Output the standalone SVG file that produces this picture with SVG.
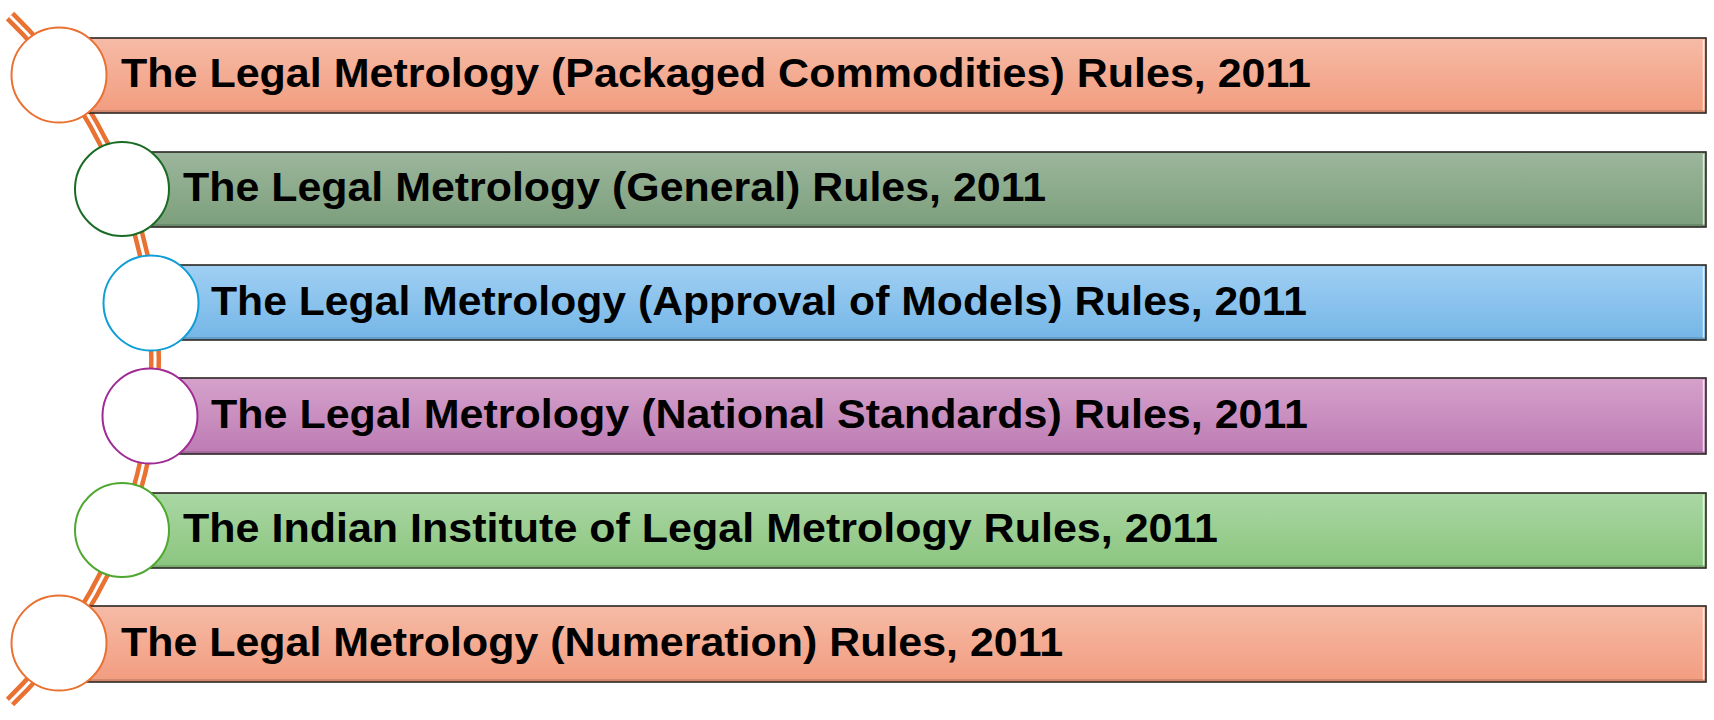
<svg xmlns="http://www.w3.org/2000/svg" width="1714" height="720" viewBox="0 0 1714 720">
<style>
.bar{stroke:#2a2622;stroke-width:1.6}
.hl{stroke:#ffffff;stroke-opacity:0.7;stroke-width:1.5}
.sh{stroke:#000;stroke-opacity:0.18;stroke-width:1.5}
.dot{fill:#ffffff;stroke-width:2}
.lbl{font-family:"Liberation Sans",Arial,sans-serif;font-weight:bold;font-size:41px;fill:#000}
</style>
<defs>
<linearGradient id="gO" x1="0" y1="0" x2="0" y2="1"><stop offset="0" stop-color="#F6BBA6"/><stop offset="1" stop-color="#F29C7F"/></linearGradient>
<linearGradient id="gG" x1="0" y1="0" x2="0" y2="1"><stop offset="0" stop-color="#9DB69D"/><stop offset="1" stop-color="#7B9F7B"/></linearGradient>
<linearGradient id="gB" x1="0" y1="0" x2="0" y2="1"><stop offset="0" stop-color="#A0CFF3"/><stop offset="1" stop-color="#74B6E7"/></linearGradient>
<linearGradient id="gP" x1="0" y1="0" x2="0" y2="1"><stop offset="0" stop-color="#D5A2CB"/><stop offset="1" stop-color="#BD7BB3"/></linearGradient>
<linearGradient id="gL" x1="0" y1="0" x2="0" y2="1"><stop offset="0" stop-color="#AAD7A4"/><stop offset="1" stop-color="#8BC57F"/></linearGradient>
</defs>
<g id="connectors">
<path d="M10,16 A478,478 0 0 1 10,702" fill="none" stroke="#E97132" stroke-width="12"/>
<path d="M10,16 A478,478 0 0 1 10,702" fill="none" stroke="#ffffff" stroke-width="3"/>
</g>
<g id="node1">
<rect class="bar" x="59" y="38" width="1647" height="75" fill="url(#gO)"/>
<line class="hl" x1="1703.5" y1="40" x2="1703.5" y2="111"/>
<line class="sh" x1="60" y1="111" x2="1705" y2="111"/>
<circle class="dot" cx="59" cy="75" r="47.5" stroke="#E97132"/>
<text class="lbl" x="121" y="87" textLength="1190" lengthAdjust="spacingAndGlyphs">The Legal Metrology (Packaged Commodities) Rules, 2011</text>
</g>
<g id="node2">
<rect class="bar" x="122" y="152" width="1584" height="75" fill="url(#gG)"/>
<line class="hl" x1="1703.5" y1="154" x2="1703.5" y2="225"/>
<line class="sh" x1="123" y1="225" x2="1705" y2="225"/>
<circle class="dot" cx="122" cy="189" r="47" stroke="#196B24"/>
<text class="lbl" x="183" y="201" textLength="863" lengthAdjust="spacingAndGlyphs">The Legal Metrology (General) Rules, 2011</text>
</g>
<g id="node3">
<rect class="bar" x="151" y="265" width="1555" height="75" fill="url(#gB)"/>
<line class="hl" x1="1703.5" y1="267" x2="1703.5" y2="338"/>
<line class="sh" x1="152" y1="338" x2="1705" y2="338"/>
<circle class="dot" cx="151" cy="303" r="47.5" stroke="#0F9ED5"/>
<text class="lbl" x="211" y="315" textLength="1096" lengthAdjust="spacingAndGlyphs">The Legal Metrology (Approval of Models) Rules, 2011</text>
</g>
<g id="node4">
<rect class="bar" x="150" y="378" width="1556" height="76" fill="url(#gP)"/>
<line class="hl" x1="1703.5" y1="380" x2="1703.5" y2="452"/>
<line class="sh" x1="151" y1="452" x2="1705" y2="452"/>
<circle class="dot" cx="150" cy="416" r="47.5" stroke="#A02B93"/>
<text class="lbl" x="211" y="428" textLength="1097" lengthAdjust="spacingAndGlyphs">The Legal Metrology (National Standards) Rules, 2011</text>
</g>
<g id="node5">
<rect class="bar" x="122" y="493" width="1584" height="75" fill="url(#gL)"/>
<line class="hl" x1="1703.5" y1="495" x2="1703.5" y2="566"/>
<line class="sh" x1="123" y1="566" x2="1705" y2="566"/>
<circle class="dot" cx="122" cy="530" r="47" stroke="#4EA72E"/>
<text class="lbl" x="183" y="542" textLength="1035" lengthAdjust="spacingAndGlyphs">The Indian Institute of Legal Metrology Rules, 2011</text>
</g>
<g id="node6">
<rect class="bar" x="59" y="606" width="1647" height="76" fill="url(#gO)"/>
<line class="hl" x1="1703.5" y1="608" x2="1703.5" y2="680"/>
<line class="sh" x1="60" y1="680" x2="1705" y2="680"/>
<circle class="dot" cx="59" cy="643" r="47.5" stroke="#E97132"/>
<text class="lbl" x="121" y="656" textLength="942" lengthAdjust="spacingAndGlyphs">The Legal Metrology (Numeration) Rules, 2011</text>
</g>
</svg>
